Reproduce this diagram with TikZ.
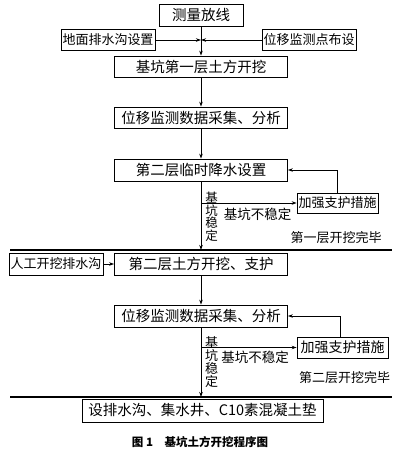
\documentclass[tikz,border=0pt]{standalone}
\usepackage{fontspec}
\setmainfont{Noto Sans CJK SC}
\usetikzlibrary{positioning, arrows.meta, calc}

\begin{document}
\begin{tikzpicture}[
  x=1pt, y=-1pt,
  stepbox/.style={
    rectangle, draw=black, line width=0.8pt,
    minimum width=173pt, minimum height=22pt, inner sep=2pt,
    font=\fontsize{14.5pt}{16pt}\selectfont
  },
  sidebox/.style={
    rectangle, draw=black, line width=0.8pt,
    minimum height=21pt, inner sep=1.5pt,
    font=\fontsize{13pt}{15pt}\selectfont
  },
  flow/.style={-{Stealth[length=5pt, width=3.5pt]}, line width=0.7pt},
  sepline/.style={line width=1.4pt},
  note/.style={font=\fontsize{13.5pt}{15pt}\selectfont, inner sep=0pt},
  vnote/.style={font=\fontsize{12.5pt}{12.5pt}\selectfont, align=center, inner sep=0pt},
]
\useasboundingbox (0,0) rectangle (408,458);

%% ── Stage 1 ──────────────────────────────────────────────────────────────────
\node[stepbox, minimum width=84pt] (survey) at (201, 15) {测量放线};
\node[sidebox, minimum width=94pt] (ditch1) at (108, 40) {地面排水沟设置};
\node[sidebox, minimum width=90pt] (mpoint) at (309, 40) {位移监测点布设};
\coordinate (j1) at (survey.south |- ditch1);

\node[stepbox, minimum height=21pt] (dig1)  at (201, 66.5)  {基坑第一层土方开挖};
\node[stepbox, minimum height=21pt] (data1) at (201, 117.5) {位移监测数据采集、分析};
\node[stepbox] (dewater) at (201, 170) {第二层临时降水设置};
\node[sidebox, minimum width=79pt, minimum height=20pt] (brace1) at (337.5, 203) {加强支护措施};

\draw[flow] (survey.south) -- (dig1.north);
\draw[flow] (ditch1.east) -- (j1);
\draw[flow] (mpoint.west) -- (j1);
\draw[flow] (dig1.south) -- (data1.north);
\draw[flow] (data1.south) -- (dewater.north);

% unstable -> brace -> back
\draw[flow] (dewater.south |- brace1) -- (brace1.west);
\draw[flow] (brace1.north) |- (dewater.east);

\node[note] (unst1) at (257.5, 214) {基坑不稳定};
\node[vnote] (st1) at (211.5, 217) {基\\坑\\稳\\定};
\node[note, font=\fontsize{13pt}{15pt}\selectfont] (done1) at (336, 237.5) {第一层开挖完毕};

%% ── Separator 1 ──────────────────────────────────────────────────────────────
\coordinate (sepL1) at (10, 250);
\coordinate (sepR1) at (392, 250);
\draw[sepline] (sepL1) -- (sepR1);
\draw[flow] (dewater.south) -- (dewater.south |- sepL1);

%% ── Stage 2 ──────────────────────────────────────────────────────────────────
\node[stepbox] (dig2) at (201, 264) {第二层土方开挖、支护};
\node[sidebox, minimum width=92pt, minimum height=22pt] (ditch2) at (56, 264) {人工开挖排水沟};
\node[stepbox] (data2) at (201, 316) {位移监测数据采集、分析};
\node[sidebox, minimum width=91pt, font=\fontsize{14pt}{16pt}\selectfont] (brace2) at (342.5, 347.5) {加强支护措施};

\draw[flow] (ditch2.east) -- (dig2.west);
\draw[flow] (dig2.south) -- (data2.north);

\draw[flow] (data2.south |- brace2) -- (brace2.west);
\draw[flow] ([xshift=-2.5pt]brace2.north) |- (data2.east);

\node[note] (unst2) at (255, 357.5) {基坑不稳定};
\node[vnote, font=\fontsize{13pt}{13pt}\selectfont] (st2) at (211.5, 362.5) {基\\坑\\稳\\定};
\node[note, font=\fontsize{13pt}{15pt}\selectfont] (done2) at (344.5, 377.5) {第二层开挖完毕};

%% ── Separator 2 ──────────────────────────────────────────────────────────────
\coordinate (sepL2) at (10, 397);
\coordinate (sepR2) at (392, 397);
\draw[sepline] (sepL2) -- (sepR2);
\draw[flow] (data2.south) -- (data2.south |- sepL2);

\node[stepbox, minimum width=241pt, minimum height=23pt] (base) at (202.5, 410.5)
  {设排水沟、集水井、C10素混凝土垫};

%% ── Caption ──────────────────────────────────────────────────────────────────
\node[font=\fontsize{11.5pt}{13pt}\selectfont\bfseries] (cap) at (200, 442)
  {图 1\quad 基坑土方开挖程序图};

\end{tikzpicture}
\end{document}
